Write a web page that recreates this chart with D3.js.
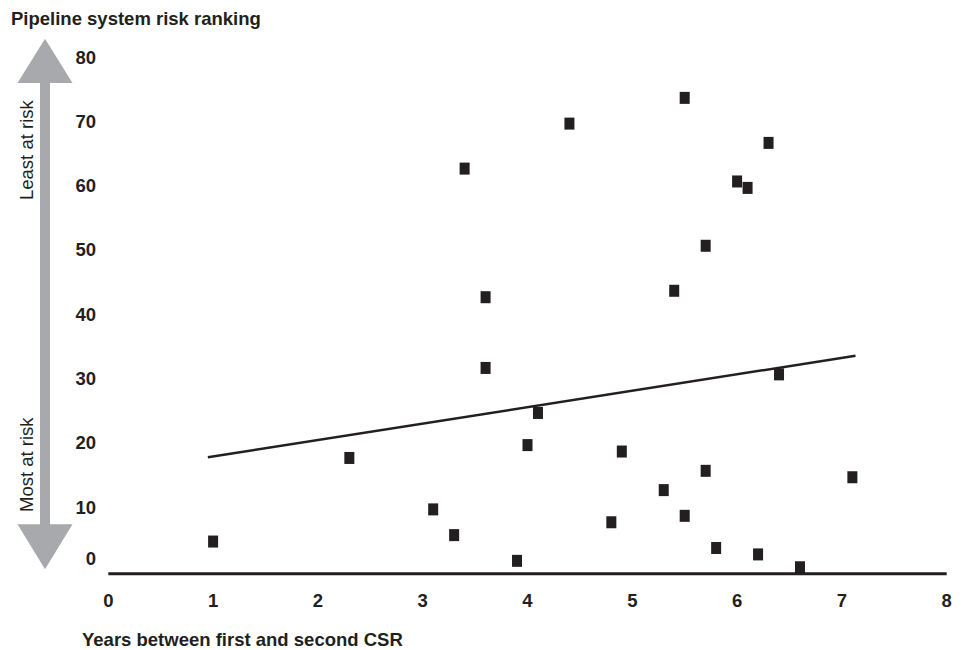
<!DOCTYPE html>
<html><head><meta charset="utf-8">
<script src="https://cdn.jsdelivr.net/npm/d3@7"></script>
<style>body{margin:0;background:#fff}svg{display:block}</style>
</head><body>
<svg id="c" width="965" height="650"></svg>
<script>
const years = [1, 2.3, 3.1, 3.3, 3.4, 3.6, 3.6, 3.9, 4.0, 4.1, 4.4, 4.8, 4.9, 5.3, 5.4, 5.5, 5.5, 5.7, 5.7, 5.8, 6.0, 6.1, 6.2, 6.3, 6.4, 6.6, 7.1];
const ranks = [5, 18, 10, 6, 63, 43, 32, 2, 20, 25, 70, 8, 19, 13, 44, 74, 9, 51, 16, 4, 61, 60, 3, 67, 31, 1, 15];
const trendX = [0.95, 7.13];
const trendY = [18.1, 33.9];
const xTicks = [0, 1, 2, 3, 4, 5, 6, 7, 8];
const yTicks = [0, 10, 20, 30, 40, 50, 60, 70, 80];
const title = "Pipeline system risk ranking";
const xTitle = "Years between first and second CSR";
const upLabel = "Least at risk";
const downLabel = "Most at risk";

const ink = "#231f20", grey = "#a7a9ac";
const font = "'Liberation Sans', Arial, Helvetica, sans-serif";
const svg = d3.select("#c");
const x = d3.scaleLinear().domain([0, 8]).range([108.3, 946.7]);
const y = d3.scaleLinear().domain([0, 80]).range([573.7, 59.3]);

// title
svg.append("text").attr("x", 11).attr("y", 24.5).text(title)
  .attr("font-family", font).attr("font-weight", "bold").attr("font-size", 18.5).attr("fill", ink);

// arrow
const shaftL = 40, shaftR = 50, cx = 45, headL = 17.5, headR = 72.5;
const topApex = y(83.2), topBase = y(76.3), botBase = y(7.7), botApex = y(0.7);
svg.append("rect").attr("x", shaftL).attr("width", shaftR - shaftL)
  .attr("y", topBase - 1).attr("height", botBase - topBase + 2).attr("fill", grey);
svg.append("path").attr("fill", grey)
  .attr("d", `M${headL},${topBase}L${headR},${topBase}L${cx},${topApex}Z`);
svg.append("path").attr("fill", grey)
  .attr("d", `M${headL},${botBase}L${headR},${botBase}L${cx},${botApex}Z`);
svg.append("text").attr("transform", "translate(32.5,200) rotate(-90)").text(upLabel)
  .attr("font-family", font).attr("font-size", 18.5).attr("fill", ink);
svg.append("text").attr("transform", "translate(32.5,512) rotate(-90)").text(downLabel)
  .attr("font-family", font).attr("font-size", 18.5).attr("fill", ink);

// y tick labels
svg.append("g").selectAll("text").data(yTicks).join("text")
  .attr("x", 96).attr("y", d => d === 0 ? y(d) - 9 : y(d) + 4.2)
  .attr("text-anchor", "end").text(d => d)
  .attr("font-family", font).attr("font-weight", "bold").attr("font-size", 18.5).attr("fill", ink);

// x tick labels
svg.append("g").selectAll("text").data(xTicks).join("text")
  .attr("x", d => x(d)).attr("y", 607.3)
  .attr("text-anchor", "middle").text(d => d)
  .attr("font-family", font).attr("font-weight", "bold").attr("font-size", 18.5).attr("fill", ink);

// x axis title
svg.append("text").attr("x", 82).attr("y", 645.8).text(xTitle)
  .attr("font-family", font).attr("font-weight", "bold").attr("font-size", 18.5).attr("fill", ink);

// axis line
svg.append("line").attr("x1", x(0)).attr("x2", x(8)).attr("y1", y(0)).attr("y2", y(0))
  .attr("stroke", ink).attr("stroke-width", 3);

// trend line
svg.append("line").attr("x1", x(trendX[0])).attr("y1", y(trendY[0]))
  .attr("x2", x(trendX[1])).attr("y2", y(trendY[1]))
  .attr("stroke", ink).attr("stroke-width", 2.5);

// points
svg.append("g").selectAll("rect").data(years.map((v, i) => [v, ranks[i]])).join("rect")
  .attr("x", d => x(d[0]) - 5).attr("y", d => y(d[1]) - 6)
  .attr("width", 10).attr("height", 12).attr("fill", ink);
</script>
</body></html>
